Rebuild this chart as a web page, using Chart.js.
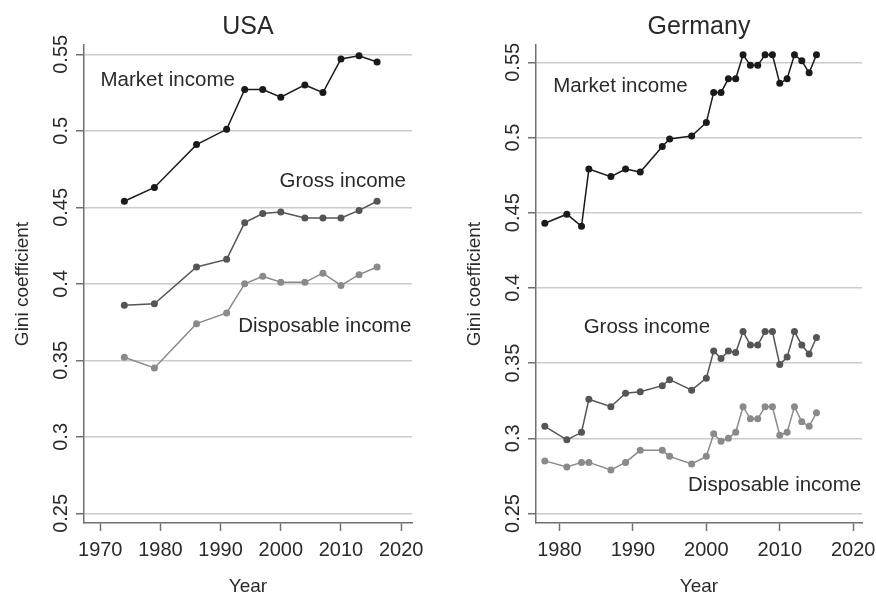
<!DOCTYPE html>
<html>
<head>
<meta charset="utf-8">
<title>Gini coefficients, USA and Germany</title>
<script src="https://cdn.jsdelivr.net/npm/chart.js@4/dist/chart.umd.min.js"></script>
<style>
  html, body { margin: 0; padding: 0; background: #fff; }
  #wrap { display: flex; width: 876px; height: 595px; }
  canvas { display: block; }
</style>
</head>
<body>
<div id="wrap">
  <canvas id="usa-chart" width="438" height="595"></canvas>
  <canvas id="germany-chart" width="438" height="595"></canvas>
</div>
<script>
// Data
var seriesNames = ["Market income", "Gross income", "Disposable income"];

var usaYears = [1974, 1979, 1986, 1991, 1994, 1997, 2000, 2004, 2007, 2010, 2013, 2016];
var usaMarket = [0.454, 0.463, 0.491, 0.501, 0.527, 0.527, 0.522, 0.530, 0.525, 0.547, 0.549, 0.545];
var usaGross = [0.386, 0.387, 0.411, 0.416, 0.440, 0.446, 0.447, 0.443, 0.443, 0.443, 0.448, 0.454];
var usaDisposable = [0.352, 0.345, 0.374, 0.381, 0.400, 0.405, 0.401, 0.401, 0.407, 0.399, 0.406, 0.411];

var germanyYears = [1978, 1981, 1983, 1984, 1987, 1989, 1991, 1994, 1995, 1998, 2000, 2001, 2002,
  2003, 2004, 2005, 2006, 2007, 2008, 2009, 2010, 2011, 2012, 2013, 2014, 2015];
var germanyMarket = [0.443, 0.449, 0.441, 0.479, 0.474, 0.479, 0.477, 0.494, 0.499, 0.501, 0.510, 0.530, 0.530,
  0.539, 0.539, 0.555, 0.548, 0.548, 0.555, 0.555, 0.536, 0.539, 0.555, 0.551, 0.543, 0.555];
var germanyGross = [0.308, 0.299, 0.304, 0.326, 0.321, 0.330, 0.331, 0.335, 0.339, 0.332, 0.340, 0.358, 0.353,
  0.358, 0.357, 0.371, 0.362, 0.362, 0.371, 0.371, 0.349, 0.354, 0.371, 0.362, 0.356, 0.367];
var germanyDisposable = [0.285, 0.281, 0.284, 0.284, 0.279, 0.284, 0.292, 0.292, 0.288, 0.283, 0.288, 0.303, 0.298,
  0.300, 0.304, 0.321, 0.313, 0.313, 0.321, 0.321, 0.302, 0.304, 0.321, 0.311, 0.308, 0.317];

// Where the series names sit, in data units
var usaNotes = [
  { text: "Market income", x: 1981.2, y: 0.533 },
  { text: "Gross income", x: 2010.3, y: 0.467 },
  { text: "Disposable income", x: 2007.3, y: 0.372 },
];
var germanyNotes = [
  { text: "Market income", x: 1988.3, y: 0.534 },
  { text: "Gross income", x: 1991.9, y: 0.374 },
  { text: "Disposable income", x: 2009.3, y: 0.269 },
];

var fontFamily = '"Liberation Sans", Arial, Helvetica, sans-serif';
var textColor = "#2a2a2a";
var axisColor = "#707070";
var seriesColors = ["#1a1a1a", "#555555", "#8a8a8a"];

function toPoints(years, values) {
  return years.map((year, i) => ({ x: year, y: values[i] }));
}

// Panel title and in-plot series names
var notesPlugin = {
  id: "notes",
  afterDraw(chart, args, opts) {
    var ctx = chart.ctx;
    var area = chart.chartArea;
    ctx.save();
    ctx.fillStyle = textColor;
    ctx.textAlign = "center";
    ctx.textBaseline = "alphabetic";
    ctx.font = "25px " + fontFamily;
    ctx.fillText(opts.title, (area.left + area.right) / 2, 34);
    ctx.font = "20.5px " + fontFamily;
    ctx.textBaseline = "middle";
    opts.labels.forEach((note) => {
      ctx.fillText(note.text, chart.scales.x.getPixelForValue(note.x), chart.scales.y.getPixelForValue(note.y));
    });
    ctx.restore();
  },
};

function makeChart(id, title, years, series, notes, frame) {
  return new Chart(document.getElementById(id), {
    type: "line",
    data: {
      datasets: series.map((values, i) => ({
        label: seriesNames[i],
        data: toPoints(years, values),
        borderColor: seriesColors[i],
        backgroundColor: seriesColors[i],
        borderWidth: 1.5,
        pointRadius: 3.5,
        pointBorderWidth: 0,
        tension: 0,
      })),
    },
    options: {
      responsive: false,
      animation: false,
      layout: { padding: { left: frame.padLeft, right: frame.padRight, top: 45, bottom: 0 } },
      plugins: {
        legend: { display: false },
        tooltip: { enabled: false },
        notes: { title: title, labels: notes },
      },
      scales: {
        x: {
          type: "linear",
          min: frame.xMin,
          max: frame.xMax,
          ticks: {
            stepSize: 10,
            includeBounds: false,
            autoSkip: false,
            maxRotation: 0,
            padding: 7,
            color: textColor,
            font: { family: fontFamily, size: 20 },
            callback: (v) => String(v),
          },
          grid: { drawOnChartArea: false, tickLength: 8, tickColor: axisColor, tickWidth: 1.5 },
          border: { color: axisColor, width: 1.5 },
          title: {
            display: true,
            text: "Year",
            color: textColor,
            font: { family: fontFamily, size: 19, lineHeight: 1.2 },
            padding: { top: 0, bottom: -3 },
          },
          afterFit: (scale) => {
            // the layout padding already leaves room for the end labels
            scale.height = 72;
            scale.paddingLeft = 0;
            scale.paddingRight = 0;
          },
        },
        y: {
          min: frame.yMin,
          max: frame.yMax,
          ticks: {
            stepSize: 0.05,
            includeBounds: false,
            minRotation: 90,
            maxRotation: 90,
            crossAlign: "center",
            padding: -5,
            color: textColor,
            font: { family: fontFamily, size: 20 },
            callback: (v) => String(+v.toFixed(2)),
          },
          grid: { color: "#cccccc", lineWidth: 1.5, tickLength: 8, tickColor: axisColor, tickWidth: 1.5 },
          border: { color: axisColor, width: 1.5 },
          title: {
            display: true,
            text: "Gini coefficient",
            color: textColor,
            font: { family: fontFamily, size: 19, lineHeight: 1.2 },
            padding: { top: 11, bottom: 0 },
          },
          afterFit: (scale) => {
            scale.width = 84;
            scale.paddingTop = 0;
            scale.paddingBottom = 0;
          },
        },
      },
    },
    plugins: [notesPlugin],
  });
}

makeChart("usa-chart", "USA", usaYears, [usaMarket, usaGross, usaDisposable], usaNotes,
  { xMin: 1967.3, xMax: 2021.8, yMin: 0.2437, yMax: 0.5561, padLeft: 0, padRight: 26 });
makeChart("germany-chart", "Germany", germanyYears, [germanyMarket, germanyGross, germanyDisposable], germanyNotes,
  { xMin: 1976.8, xMax: 2021.2, yMin: 0.2437, yMax: 0.5615, padLeft: 14, padRight: 14 });
</script>
</body>
</html>
